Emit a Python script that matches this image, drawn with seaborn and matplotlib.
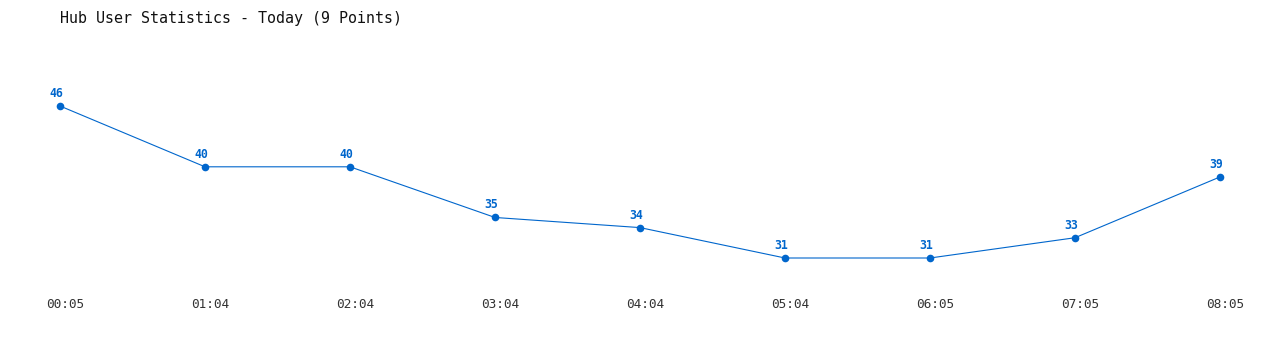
import matplotlib
matplotlib.use("Agg")
import matplotlib.pyplot as plt
import matplotlib.transforms as mtransforms
import seaborn as sns
import pandas as pd

times = ["00:05", "01:04", "02:04", "03:04", "04:04", "05:04", "06:05", "07:05", "08:05"]
users = [46, 40, 40, 35, 34, 31, 31, 33, 39]
title = "Hub User Statistics - Today (9 Points)"

sns.set_theme(style="white")
plt.rcParams['font.family'] = ['DejaVu Sans Mono', 'DejaVu Sans']

W, H = 1280, 350
fig = plt.figure(figsize=(W / 100, H / 100), dpi=100)
ax = fig.add_axes([60 / W, 1 - 258 / H, 1160 / W, (258 - 106) / H])

df = pd.DataFrame({"pos": range(len(times)), "users": users})
color = "#0066cc"
sns.lineplot(data=df, x="pos", y="users", ax=ax, color=color, linewidth=0.8,
             marker="o", markersize=5.5, markeredgewidth=0, clip_on=False)

for i, v in enumerate(users):
    ax.annotate(str(v), (i, v), xytext=(-3, 9), textcoords="offset points",
                ha="center", va="center", fontsize=8.3, fontweight="bold",
                color=color, annotation_clip=False)

ax.set_xlim(0, len(times) - 1)
ax.set_ylim(31, 46)
ax.set_xticks(range(len(times)))
ax.set_xticklabels(times, fontsize=9.2, color="#333333")
ax.tick_params(axis="x", length=0, pad=29)
shift = mtransforms.ScaledTranslation(5 / 100, 0, fig.dpi_scale_trans)
for lbl in ax.get_xticklabels():
    lbl.set_transform(lbl.get_transform() + shift)
ax.set_yticks([])
ax.set_xlabel("")
ax.set_ylabel("")
for s in ax.spines.values():
    s.set_visible(False)
ax.patch.set_alpha(0)

fig.text(60 / W, 1 - 18 / H, title, fontsize=10.8, color="#111111",
         ha="left", va="center")

fig.savefig("out.png", dpi=100, facecolor="white")
